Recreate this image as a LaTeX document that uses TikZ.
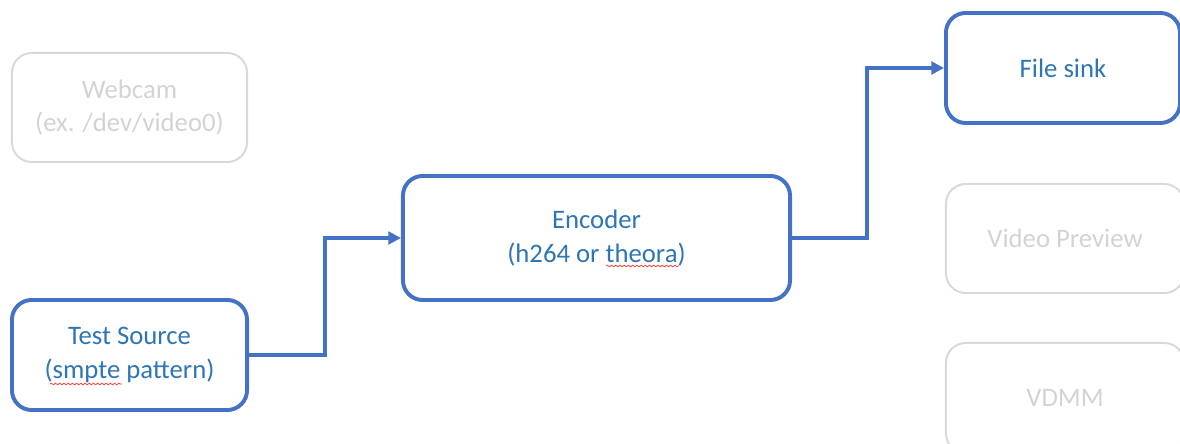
\documentclass[tikz,border=0pt]{standalone}
\usepackage{fontspec}
\setmainfont{Carlito}
\usetikzlibrary{arrows.meta,decorations.pathmorphing}
\definecolor{boxblue}{HTML}{4472C4}
\definecolor{textblue}{HTML}{2E75B6}
\definecolor{boxgray}{HTML}{D9D9D9}
\definecolor{textgray}{HTML}{D3D3D3}
\tikzset{
  stage/.style={draw=boxblue, line width=2.8pt, rounded corners=14pt, text=textblue,
    align=center, font=\fontsize{19}{24}\selectfont},
  unused/.style={draw=boxgray, line width=1.4pt, rounded corners=14pt, text=textgray,
    align=center, font=\fontsize{19}{24}\selectfont},
  flow/.style={draw=boxblue, line width=2.8pt, -{Triangle[length=9pt,width=9pt]}},
  typo/.style={draw=red!80, line width=0.5pt, decorate,
    decoration={snake, amplitude=0.6pt, segment length=3pt}}
}
\begin{document}
\begin{tikzpicture}[x=0.025cm,y=-0.025cm]
			\useasboundingbox (0,0) rectangle (1180,444);
			% sources
			\node[unused, minimum width=5.875cm, minimum height=2.725cm] (webcam) at (129.5,107.5) {Webcam\\(ex. /dev/video0)};
			\node[stage, minimum width=5.875cm, minimum height=2.75cm] (testsrc) at (129.5,355) {Test Source\\(smpte pattern)};
			% encoder
			\node[stage, minimum width=9.675cm, minimum height=3.1cm] (encoder) at (596.5,238) {Encoder\\(h264 or theora)};
			% sinks
			\node[stage, minimum width=5.85cm, minimum height=2.75cm] (filesink) at (1063,68) {File sink};
			\node[unused, minimum width=5.95cm, minimum height=2.725cm] (preview) at (1065,238.5) {Video Preview};
			\node[unused, minimum width=5.95cm, minimum height=2.75cm] (vdmm) at (1065,398) {VDMM};
			% links
			\draw[flow] (testsrc.east) -| (325,238) -- (encoder.west);
			\draw[flow] (encoder.east) -| (867,68) -- (filesink.west);
			% spell check marks
			\draw[typo] (50,384) -- (122,384);
			\draw[typo] (606,266) -- (679,266);
		\end{tikzpicture}
\end{document}
